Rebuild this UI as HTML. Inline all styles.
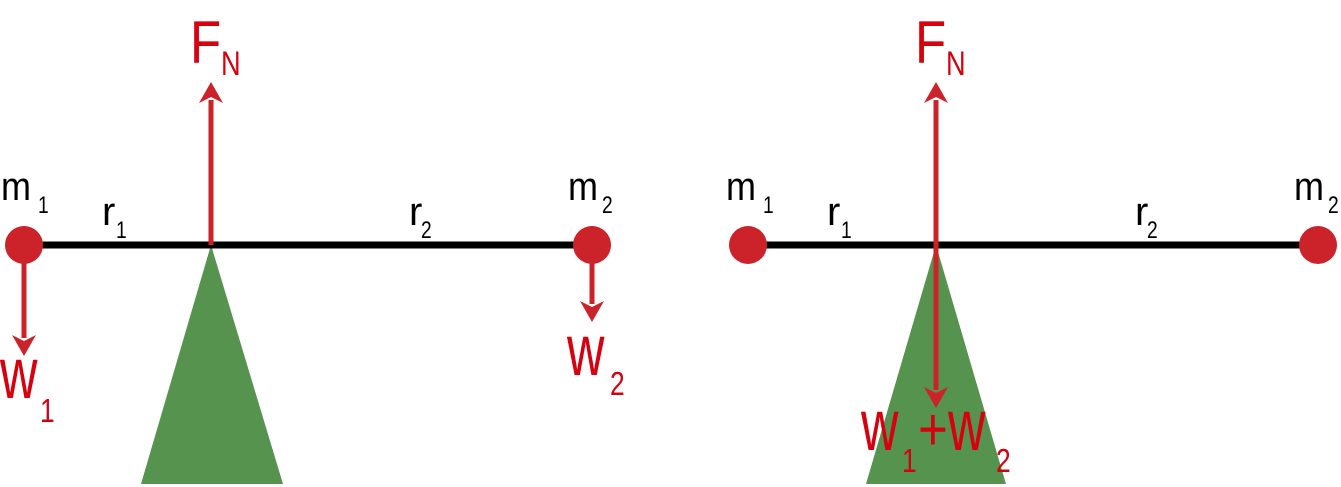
<!DOCTYPE html>
<html><head><meta charset="utf-8"><style>html,body{margin:0;padding:0;background:#fff}svg{display:block}</style></head>
<body>
<svg width="1341" height="487" viewBox="0 0 1341 487" xmlns="http://www.w3.org/2000/svg" font-family="Liberation Sans, DejaVu Sans, sans-serif">
<!-- LEFT -->
<polygon points="211,245 141,484 283,484" fill="#55934e"/>
<line x1="22" y1="245" x2="592" y2="245" stroke="#000" stroke-width="7"/>
<circle cx="24" cy="245" r="19" fill="#cc2229"/>
<circle cx="592" cy="245" r="19" fill="#cc2229"/>
<line x1="211" y1="245" x2="211" y2="100" stroke="#cc2229" stroke-width="5"/>
<polygon points="211,82 199,103 211,97 223,103" fill="#cc2229"/>
<line x1="24" y1="260" x2="24" y2="338" stroke="#cc2229" stroke-width="5"/>
<polygon points="24,356 12,335 24,341 36,335" fill="#cc2229"/>
<line x1="592" y1="260" x2="592" y2="304" stroke="#cc2229" stroke-width="5"/>
<polygon points="592,322 580,301 592,307 604,301" fill="#cc2229"/>
<g fill="#d7000f">
<text transform="translate(190,63) scale(0.85,1)" font-size="60">F</text>
<text transform="translate(221,75) scale(0.8,1)" font-size="34">N</text>
<text transform="translate(0,398) scale(0.72,1)" font-size="72">w</text>
<text transform="translate(40,422) scale(0.8,1)" font-size="33">1</text>
<text transform="translate(567,375) scale(0.72,1)" font-size="72">w</text>
<text transform="translate(610,395) scale(0.8,1)" font-size="33">2</text>
</g>
<g fill="#000">
<text transform="translate(1,200) scale(0.9,1)" font-size="40">m</text>
<text transform="translate(38,213) scale(0.8,1)" font-size="24">1</text>
<text x="102" y="225" font-size="40">r</text>
<text transform="translate(116,238) scale(0.8,1)" font-size="24">1</text>
<text x="409" y="225" font-size="40">r</text>
<text transform="translate(421,238) scale(0.8,1)" font-size="24">2</text>
<text transform="translate(568,200) scale(0.9,1)" font-size="40">m</text>
<text transform="translate(602,213) scale(0.8,1)" font-size="24">2</text>
</g>
<!-- RIGHT -->
<polygon points="936,245 866,484 1006,484" fill="#55934e"/>
<line x1="748" y1="245" x2="1318" y2="245" stroke="#000" stroke-width="7"/>
<circle cx="748" cy="245" r="19" fill="#cc2229"/>
<circle cx="1318" cy="245" r="19" fill="#cc2229"/>
<line x1="936" y1="245" x2="936" y2="100" stroke="#cc2229" stroke-width="5"/>
<polygon points="936,82 924,103 936,97 948,103" fill="#cc2229"/>
<line x1="936" y1="245" x2="936" y2="390" stroke="#cc2229" stroke-width="5"/>
<polygon points="936,408 924,387 936,393 948,387" fill="#cc2229"/>
<g fill="#d7000f">
<text transform="translate(915,63) scale(0.85,1)" font-size="60">F</text>
<text transform="translate(946,75) scale(0.8,1)" font-size="34">N</text>
<text transform="translate(861,450) scale(0.72,1)" font-size="72">w</text>
<text transform="translate(902,472) scale(0.8,1)" font-size="33">1</text>
<text transform="translate(918,450) scale(0.85,1)" font-size="60">+</text>
<text transform="translate(948,450) scale(0.72,1)" font-size="72">w</text>
<text transform="translate(996,472) scale(0.8,1)" font-size="33">2</text>
</g>
<g fill="#000">
<text transform="translate(726,200) scale(0.9,1)" font-size="40">m</text>
<text transform="translate(763,213) scale(0.8,1)" font-size="24">1</text>
<text x="827" y="225" font-size="40">r</text>
<text transform="translate(841,238) scale(0.8,1)" font-size="24">1</text>
<text x="1135" y="225" font-size="40">r</text>
<text transform="translate(1147,238) scale(0.8,1)" font-size="24">2</text>
<text transform="translate(1294,200) scale(0.9,1)" font-size="40">m</text>
<text transform="translate(1328,213) scale(0.8,1)" font-size="24">2</text>
</g>
</svg>
</body></html>
